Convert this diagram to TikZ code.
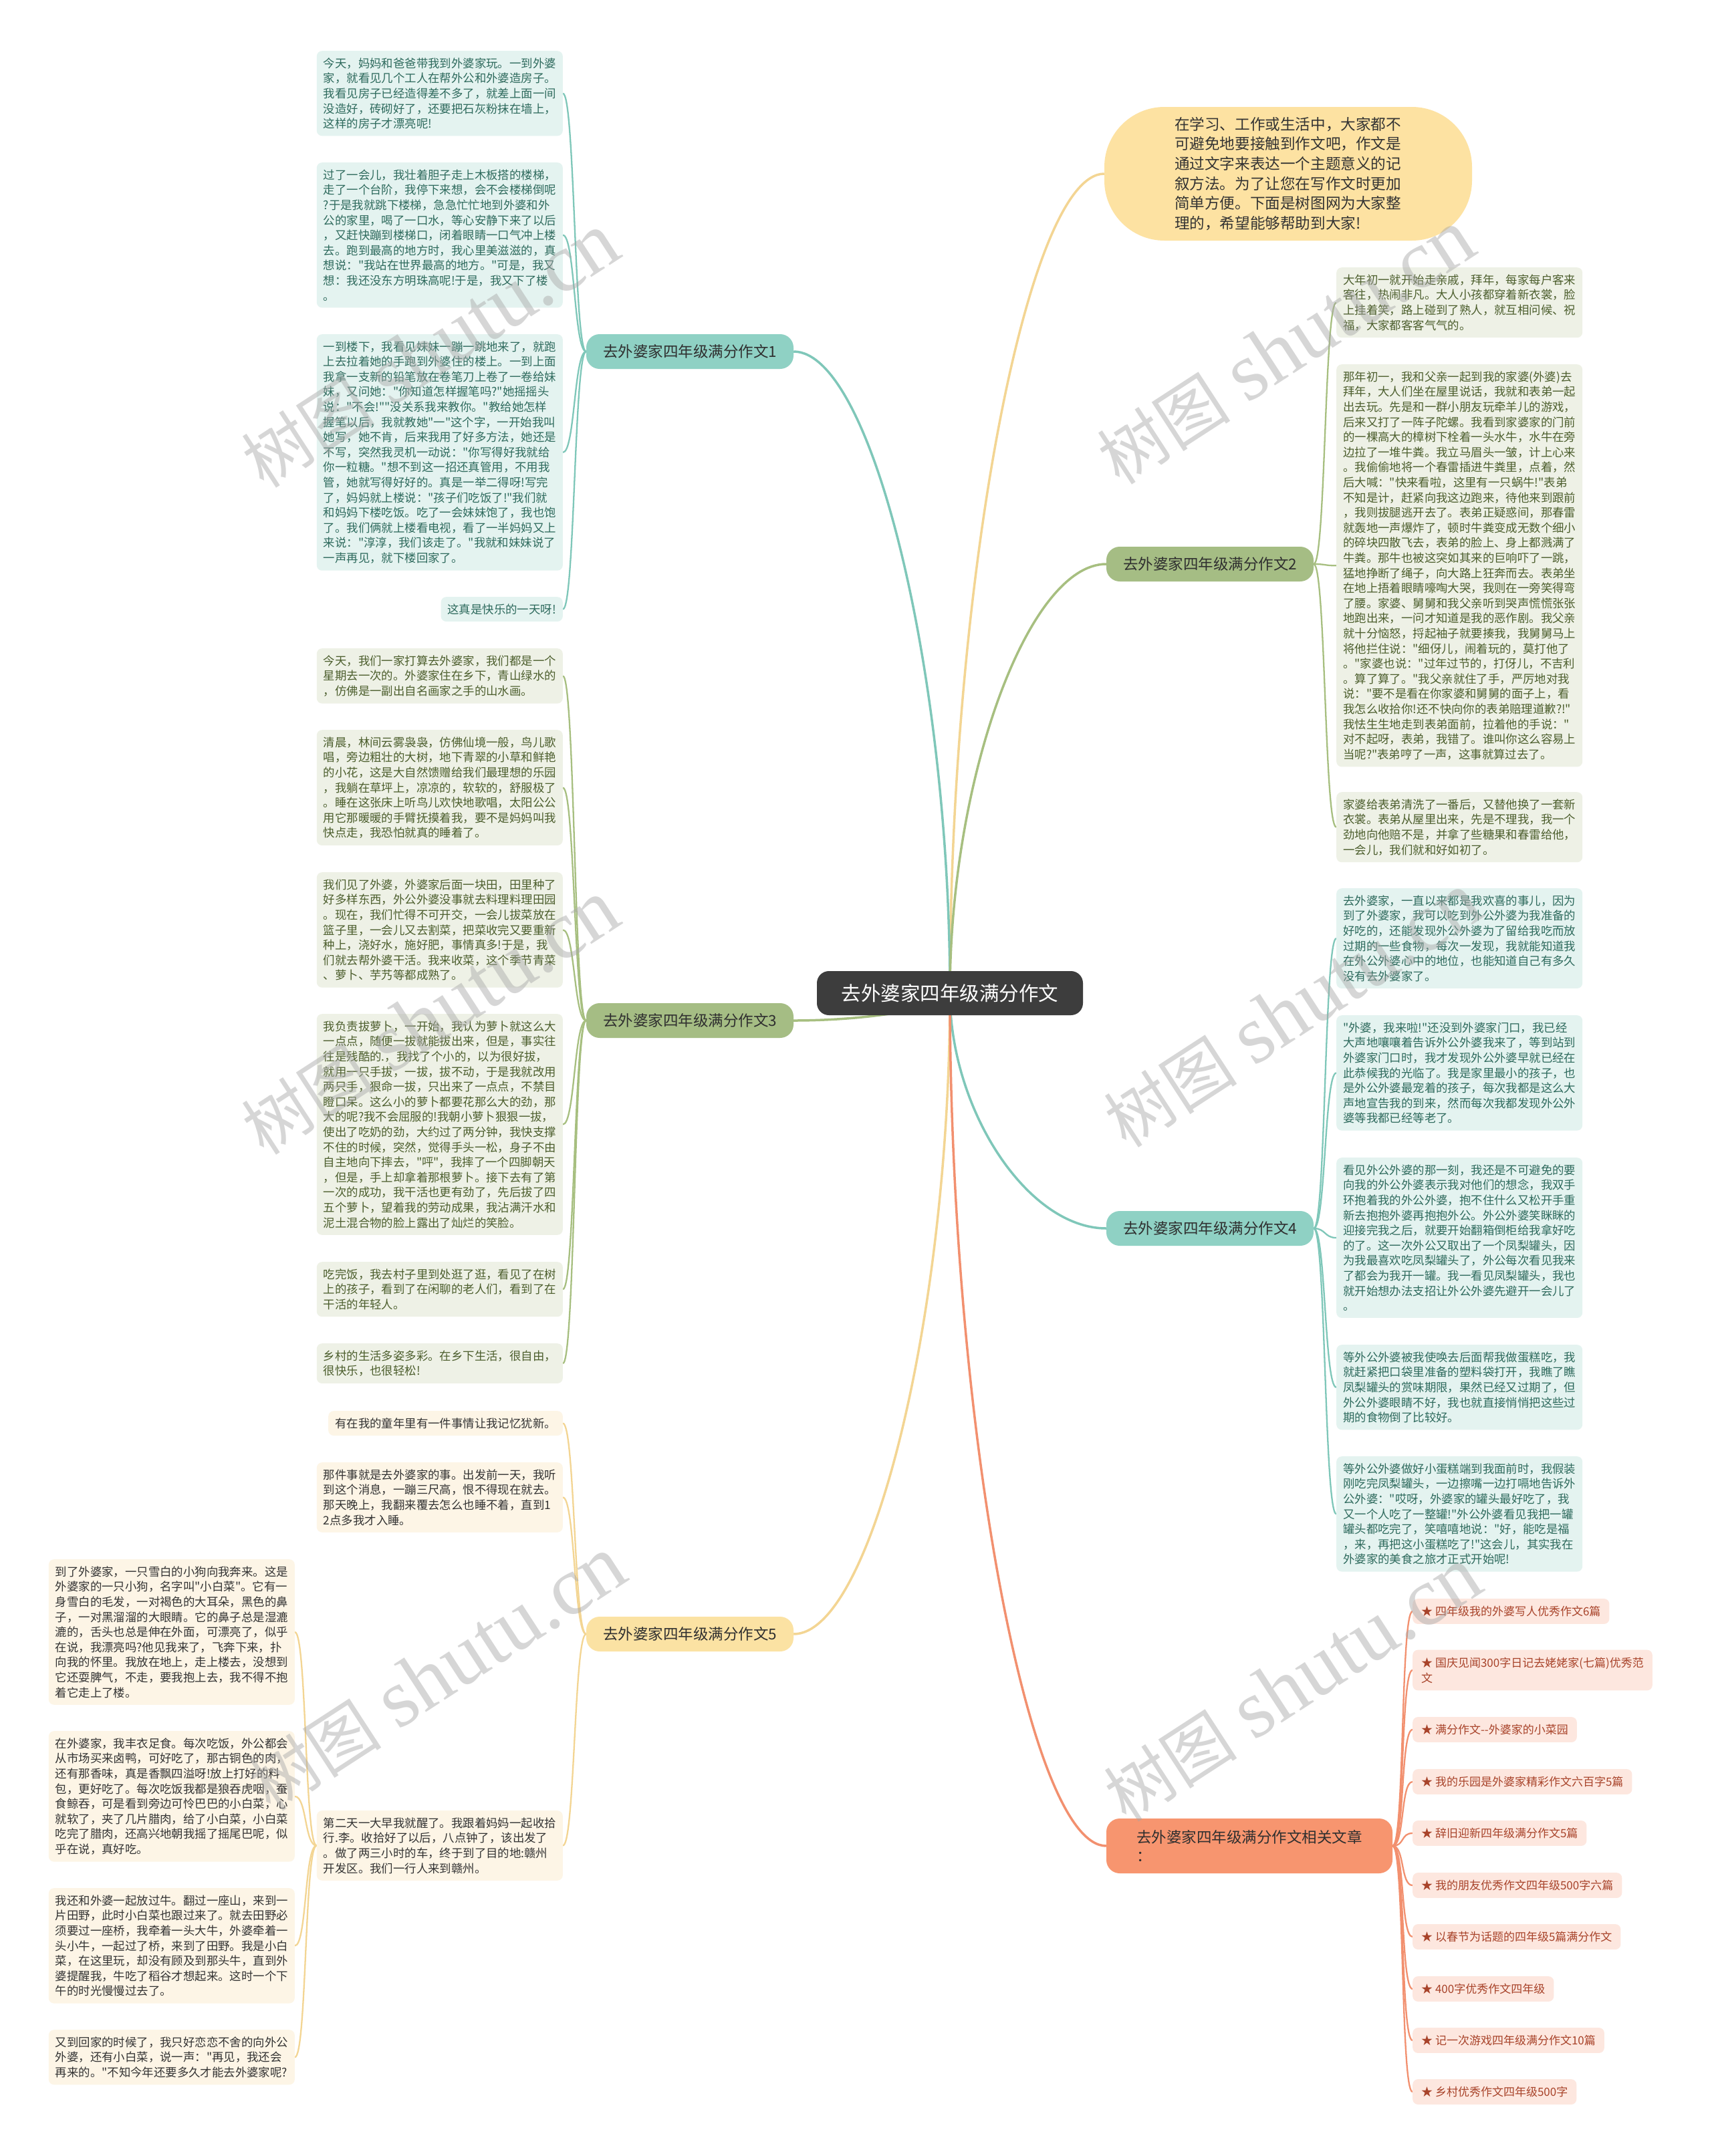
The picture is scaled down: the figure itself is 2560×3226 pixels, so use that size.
\documentclass[tikz,border=0pt]{standalone}
\usepackage{fontspec}
\newfontfamily\cjk{Noto Sans CJK SC}
\newfontfamily\wmser{Liberation Serif}
\usetikzlibrary{calc}
\pgfdeclarelayer{bg}
\pgfsetlayers{bg,main}
\definecolor{cdark}{HTML}{3D3D3D}
\definecolor{tealN}{HTML}{8FD1C4}
\definecolor{tealL}{HTML}{E4F3F0}
\definecolor{tealT}{HTML}{2E6A5D}
\definecolor{tealC}{HTML}{7FC7B9}
\definecolor{grnN}{HTML}{A5BD84}
\definecolor{grnL}{HTML}{EEF1E6}
\definecolor{grnT}{HTML}{4C5E2D}
\definecolor{grnC}{HTML}{A7BF80}
\definecolor{ylwN}{HTML}{FBE2A3}
\definecolor{ylwL}{HTML}{FDF5E6}
\definecolor{ylwT}{HTML}{333333}
\definecolor{ylwC}{HTML}{F3D593}
\definecolor{salN}{HTML}{F7956F}
\definecolor{salL}{HTML}{FDE7DF}
\definecolor{salT}{HTML}{A8432A}
\definecolor{salC}{HTML}{F2906F}
\definecolor{introF}{HTML}{FDE2A2}
\definecolor{brT}{HTML}{2F2F2F}
\newcommand\mlink[3]{\draw[mainline,#1] (#2) .. controls ($(#2)!0.5!(#2 |- #3)$) and ($(#3)!0.5!(#2 |- #3)$) .. (#3);}
\newcommand\llink[3]{\draw[leafline,#1] (#2) .. controls +(-18,0) and +(18,0) .. (#3);}
\newcommand\rlink[3]{\draw[leafline,#1] (#2) .. controls +(18,0) and +(-18,0) .. (#3);}
\begin{document}
\begin{tikzpicture}[x=1pt,y=-1pt,
  mainline/.style={line width=3.5pt},
  leafline/.style={line width=2.3pt},
  centerbox/.style={fill=cdark,text=white,rounded corners=18pt,minimum width=398pt,minimum height=66pt,inner sep=0pt,font=\cjk\fontsize{29.5}{34}\selectfont},
  branch/.style={rounded corners=20pt,minimum width=310pt,minimum height=52pt,inner sep=0pt,text=brT,font=\cjk\fontsize{22.5}{28}\selectfont},
  leaf/.style={rounded corners=8pt,inner xsep=10pt,inner ysep=10.3pt,align=left,font=\cjk\fontsize{17.4}{22.6}\selectfont},
  leafw/.style={leaf,text width=348pt},
  tleaf/.style={leafw,fill=tealL,text=tealT},
  gleaf/.style={leafw,fill=grnL,text=grnT},
  yleaf/.style={leafw,fill=ylwL,text=ylwT},
  rleaf/.style={rounded corners=8pt,inner xsep=13pt,inner ysep=11pt,align=left,fill=salL,text=salT,font=\cjk\fontsize{17}{23}\selectfont,anchor=west},
  wmark/.style={rotate=33,text=black!35,text opacity=0.45,inner sep=0pt}
]
\useasboundingbox (0,0) rectangle (2560,3226);

% central and main topics
\node[centerbox] (c) at (1421,1486) {去外婆家四年级满分作文};
\node[fill=introF,rounded corners=90pt,minimum width=550pt,minimum height=200pt,text width=340pt,align=left,text=ylwT,font=\cjk\fontsize{22.6}{29.6}\selectfont] (intro) at (1927,260) {在学习、工作或生活中，大家都不\\可避免地要接触到作文吧，作文是\\通过文字来表达一个主题意义的记\\叙方法。为了让您在写作文时更加\\简单方便。下面是树图网为大家整\\理的，希望能够帮助到大家!};
\node[branch,fill=tealN] (b1) at (1032,526) {去外婆家四年级满分作文1};
\node[branch,fill=grnN] (b3) at (1032,1527) {去外婆家四年级满分作文3};
\node[branch,fill=ylwN] (b5) at (1032,2445) {去外婆家四年级满分作文5};
\node[branch,fill=grnN] (b2) at (1810,844) {去外婆家四年级满分作文2};
\node[branch,fill=tealN] (b4) at (1810,1838) {去外婆家四年级满分作文4};
\node[branch,fill=salN,minimum width=428pt,minimum height=82pt,align=left] (rel) at (1869,2762) {去外婆家四年级满分作文相关文章\\：};

% branch 1 leaves
\node[tleaf,anchor=north east] (l11) at (842,76) {今天，妈妈和爸爸带我到外婆家玩。一到外婆\\家，就看见几个工人在帮外公和外婆造房子。\\我看见房子已经造得差不多了，就差上面一间\\没造好，砖砌好了，还要把石灰粉抹在墙上，\\这样的房子才漂亮呢!};
\node[tleaf,anchor=north east] (l12) at (842,243) {过了一会儿，我壮着胆子走上木板搭的楼梯，\\走了一个台阶，我停下来想，会不会楼梯倒呢\\?于是我就跳下楼梯，急急忙忙地到外婆和外\\公的家里，喝了一口水，等心安静下来了以后\\，又赶快蹦到楼梯口，闭着眼睛一口气冲上楼\\去。跑到最高的地方时，我心里美滋滋的，真\\想说："我站在世界最高的地方。"可是，我又\\想：我还没东方明珠高呢!于是，我又下了楼\\。};
\node[tleaf,anchor=north east] (l13) at (842,500) {一到楼下，我看见妹妹一蹦一跳地来了，就跑\\上去拉着她的手跑到外婆住的楼上。一到上面\\我拿一支新的铅笔放在卷笔刀上卷了一卷给妹\\妹，又问她："你知道怎样握笔吗?"她摇摇头\\说："不会!""没关系我来教你。"教给她怎样\\握笔以后，我就教她"一"这个字，一开始我叫\\她写，她不肯，后来我用了好多方法，她还是\\不写，突然我灵机一动说："你写得好我就给\\你一粒糖。"想不到这一招还真管用，不用我\\管，她就写得好好的。真是一举二得呀!写完\\了，妈妈就上楼说："孩子们吃饭了!"我们就\\和妈妈下楼吃饭。吃了一会妹妹饱了，我也饱\\了。我们俩就上楼看电视，看了一半妈妈又上\\来说："淳淳，我们该走了。"我就和妹妹说了\\一声再见，就下楼回家了。};
\node[leaf,fill=tealL,text=tealT,anchor=north east] (l14) at (842,893) {这真是快乐的一天呀!};

% branch 3 leaves
\node[gleaf,anchor=north east] (l31) at (842,970) {今天，我们一家打算去外婆家，我们都是一个\\星期去一次的。外婆家住在乡下，青山绿水的\\，仿佛是一副出自名画家之手的山水画。};
\node[gleaf,anchor=north east] (l32) at (842,1092) {清晨，林间云雾袅袅，仿佛仙境一般，鸟儿歌\\唱，旁边粗壮的大树，地下青翠的小草和鲜艳\\的小花，这是大自然馈赠给我们最理想的乐园\\，我躺在草坪上，凉凉的，软软的，舒服极了\\。睡在这张床上听鸟儿欢快地歌唱，太阳公公\\用它那暖暖的手臂抚摸着我，要不是妈妈叫我\\快点走，我恐怕就真的睡着了。};
\node[gleaf,anchor=north east] (l33) at (842,1305) {我们见了外婆，外婆家后面一块田，田里种了\\好多样东西，外公外婆没事就去料理料理田园\\。现在，我们忙得不可开交，一会儿拔菜放在\\篮子里，一会儿又去割菜，把菜收完又要重新\\种上，浇好水，施好肥，事情真多!于是，我\\们就去帮外婆干活。我来收菜，这个季节青菜\\、萝卜、芋艿等都成熟了。};
\node[gleaf,anchor=north east] (l34) at (842,1517) {我负责拔萝卜，一开始，我认为萝卜就这么大\\一点点，随便一拔就能拔出来，但是，事实往\\往是残酷的.，我找了个小的，以为很好拔，\\就用一只手拔，一拔，拔不动，于是我就改用\\两只手，狠命一拔，只出来了一点点，不禁目\\瞪口呆。这么小的萝卜都要花那么大的劲，那\\大的呢?我不会屈服的!我朝小萝卜狠狠一拔，\\使出了吃奶的劲，大约过了两分钟，我快支撑\\不住的时候，突然，觉得手头一松，身子不由\\自主地向下摔去，"呯"，我摔了一个四脚朝天\\，但是，手上却拿着那根萝卜。接下去有了第\\一次的成功，我干活也更有劲了，先后拔了四\\五个萝卜，望着我的劳动成果，我沾满汗水和\\泥土混合物的脸上露出了灿烂的笑脸。};
\node[gleaf,anchor=north east] (l35) at (842,1888) {吃完饭，我去村子里到处逛了逛，看见了在树\\上的孩子，看到了在闲聊的老人们，看到了在\\干活的年轻人。};
\node[gleaf,anchor=north east] (l36) at (842,2010) {乡村的生活多姿多彩。在乡下生活，很自由，\\很快乐，也很轻松!};

% branch 5 leaves
\node[leaf,fill=ylwL,text=ylwT,anchor=north east] (l51) at (842,2111) {有在我的童年里有一件事情让我记忆犹新。};
\node[yleaf,anchor=north east] (l52) at (842,2188) {那件事就是去外婆家的事。出发前一天，我听\\到这个消息，一蹦三尺高，恨不得现在就去。\\那天晚上，我翻来覆去怎么也睡不着，直到1\\2点多我才入睡。};
\node[yleaf,anchor=north east] (l55) at (842,2709) {第二天一大早我就醒了。我跟着妈妈一起收拾\\行.李。收拾好了以后，八点钟了，该出发了\\。做了两三小时的车，终于到了目的地:赣州\\开发区。我们一行人来到赣州。};
\node[yleaf,anchor=north east] (l53) at (441,2333) {到了外婆家，一只雪白的小狗向我奔来。这是\\外婆家的一只小狗，名字叫"小白菜"。它有一\\身雪白的毛发，一对褐色的大耳朵，黑色的鼻\\子，一对黑溜溜的大眼睛。它的鼻子总是湿漉\\漉的，舌头也总是伸在外面，可漂亮了，似乎\\在说，我漂亮吗?他见我来了，飞奔下来，扑\\向我的怀里。我放在地上，走上楼去，没想到\\它还耍脾气，不走，要我抱上去，我不得不抱\\着它走上了楼。};
\node[yleaf,anchor=north east] (l54) at (441,2590) {在外婆家，我丰衣足食。每次吃饭，外公都会\\从市场买来卤鸭，可好吃了，那古铜色的肉，\\还有那香味，真是香飘四溢呀!放上打好的料\\包，更好吃了。每次吃饭我都是狼吞虎咽，蚕\\食鲸吞，可是看到旁边可怜巴巴的小白菜，心\\就软了，夹了几片腊肉，给了小白菜，小白菜\\吃完了腊肉，还高兴地朝我摇了摇尾巴呢，似\\乎在说，真好吃。};
\node[yleaf,anchor=north east] (l56) at (441,2825) {我还和外婆一起放过牛。翻过一座山，来到一\\片田野，此时小白菜也跟过来了。就去田野必\\须要过一座桥，我牵着一头大牛，外婆牵着一\\头小牛，一起过了桥，来到了田野。我是小白\\菜，在这里玩，却没有顾及到那头牛，直到外\\婆提醒我，牛吃了稻谷才想起来。这时一个下\\午的时光慢慢过去了。};
\node[yleaf,anchor=north east] (l57) at (441,3037) {又到回家的时候了，我只好恋恋不舍的向外公\\外婆，还有小白菜，说一声："再见，我还会\\再来的。"不知今年还要多久才能去外婆家呢?};

% branch 2 leaves
\node[gleaf,anchor=north west] (l21) at (1999,400) {大年初一就开始走亲戚，拜年，每家每户客来\\客往，热闹非凡。大人小孩都穿着新衣裳，脸\\上挂着笑，路上碰到了熟人，就互相问候、祝\\福，大家都客客气气的。};
\node[gleaf,anchor=north west] (l22) at (1999,545) {那年初一，我和父亲一起到我的家婆(外婆)去\\拜年，大人们坐在屋里说话，我就和表弟一起\\出去玩。先是和一群小朋友玩牵羊儿的游戏，\\后来又打了一阵子陀螺。我看到家婆家的门前\\的一棵高大的樟树下栓着一头水牛，水牛在旁\\边拉了一堆牛粪。我立马眉头一皱，计上心来\\。我偷偷地将一个春雷插进牛粪里，点着，然\\后大喊："快来看啦，这里有一只蜗牛!"表弟\\不知是计，赶紧向我这边跑来，待他来到跟前\\，我则拔腿逃开去了。表弟正疑惑间，那春雷\\就轰地一声爆炸了，顿时牛粪变成无数个细小\\的碎块四散飞去，表弟的脸上、身上都溅满了\\牛粪。那牛也被这突如其来的巨响吓了一跳，\\猛地挣断了绳子，向大路上狂奔而去。表弟坐\\在地上捂着眼睛嚎啕大哭，我则在一旁笑得弯\\了腰。家婆、舅舅和我父亲听到哭声慌慌张张\\地跑出来，一问才知道是我的恶作剧。我父亲\\就十分恼怒，捋起袖子就要揍我，我舅舅马上\\将他拦住说："细伢儿，闹着玩的，莫打他了\\。"家婆也说："过年过节的，打伢儿，不吉利\\。算了算了。"我父亲就住了手，严厉地对我\\说："要不是看在你家婆和舅舅的面子上，看\\我怎么收拾你!还不快向你的表弟赔理道歉?!"\\我怯生生地走到表弟面前，拉着他的手说："\\对不起呀，表弟，我错了。谁叫你这么容易上\\当呢?"表弟哼了一声，这事就算过去了。};
\node[gleaf,anchor=north west] (l23) at (1999,1185) {家婆给表弟清洗了一番后，又替他换了一套新\\衣裳。表弟从屋里出来，先是不理我，我一个\\劲地向他赔不是，并拿了些糖果和春雷给他，\\一会儿，我们就和好如初了。};

% branch 4 leaves
\node[tleaf,anchor=north west] (l41) at (1999,1329) {去外婆家，一直以来都是我欢喜的事儿，因为\\到了外婆家，我可以吃到外公外婆为我准备的\\好吃的，还能发现外公外婆为了留给我吃而放\\过期的一些食物，每次一发现，我就能知道我\\在外公外婆心中的地位，也能知道自己有多久\\没有去外婆家了。};
\node[tleaf,anchor=north west] (l42) at (1999,1519) {"外婆，我来啦!"还没到外婆家门口，我已经\\大声地嚷嚷着告诉外公外婆我来了，等到站到\\外婆家门口时，我才发现外公外婆早就已经在\\此恭候我的光临了。我是家里最小的孩子，也\\是外公外婆最宠着的孩子，每次我都是这么大\\声地宣告我的到来，然而每次我都发现外公外\\婆等我都已经等老了。};
\node[tleaf,anchor=north west] (l43) at (1999,1732) {看见外公外婆的那一刻，我还是不可避免的要\\向我的外公外婆表示我对他们的想念，我双手\\环抱着我的外公外婆，抱不住什么又松开手重\\新去抱抱外婆再抱抱外公。外公外婆笑眯眯的\\迎接完我之后，就要开始翻箱倒柜给我拿好吃\\的了。这一次外公又取出了一个凤梨罐头，因\\为我最喜欢吃凤梨罐头了，外公每次看见我来\\了都会为我开一罐。我一看见凤梨罐头，我也\\就开始想办法支招让外公外婆先避开一会儿了\\。};
\node[tleaf,anchor=north west] (l44) at (1999,2012) {等外公外婆被我使唤去后面帮我做蛋糕吃，我\\就赶紧把口袋里准备的塑料袋打开，我瞧了瞧\\凤梨罐头的赏味期限，果然已经又过期了，但\\外公外婆眼睛不好，我也就直接悄悄把这些过\\期的食物倒了比较好。};
\node[tleaf,anchor=north west] (l45) at (1999,2179) {等外公外婆做好小蛋糕端到我面前时，我假装\\刚吃完凤梨罐头，一边擦嘴一边打嗝地告诉外\\公外婆："哎呀，外婆家的罐头最好吃了，我\\又一个人吃了一整罐!"外公外婆看见我把一罐\\罐头都吃完了，笑嘻嘻地说："好，能吃是福\\，来，再把这小蛋糕吃了!"这会儿，其实我在\\外婆家的美食之旅才正式开始呢!};

% related articles
\node[rleaf] (r1) at (2113,2411) {★ 四年级我的外婆写人优秀作文6篇};
\node[rleaf] (r2) at (2113,2499) {★ 国庆见闻300字日记去姥姥家(七篇)优秀范\\文};
\node[rleaf] (r3) at (2113,2588) {★ 满分作文-{}-外婆家的小菜园};
\node[rleaf] (r4) at (2113,2666) {★ 我的乐园是外婆家精彩作文六百字5篇};
\node[rleaf] (r5) at (2113,2743) {★ 辞旧迎新四年级满分作文5篇};
\node[rleaf] (r6) at (2113,2821) {★ 我的朋友优秀作文四年级500字六篇};
\node[rleaf] (r7) at (2113,2898) {★ 以春节为话题的四年级5篇满分作文};
\node[rleaf] (r8) at (2113,2976) {★ 400字优秀作文四年级};
\node[rleaf] (r9) at (2113,3053) {★ 记一次游戏四年级满分作文10篇};
\node[rleaf] (r10) at (2113,3130) {★ 乡村优秀作文四年级500字};

\begin{pgfonlayer}{bg}
\fill[white] (0,0) rectangle (2560,3226);
\mlink{ylwC}{c.center}{intro.west}
\mlink{tealC}{c.center}{b1.east}
\mlink{grnC}{c.center}{b3.east}
\mlink{ylwC}{c.center}{b5.east}
\mlink{grnC}{c.center}{b2.west}
\mlink{tealC}{c.center}{b4.west}
\mlink{salC}{c.center}{rel.west}
\llink{tealC}{b1.west}{l11.east}
\llink{tealC}{b1.west}{l12.east}
\llink{tealC}{b1.west}{l13.east}
\llink{tealC}{b1.west}{l14.east}
\llink{grnC}{b3.west}{l31.east}
\llink{grnC}{b3.west}{l32.east}
\llink{grnC}{b3.west}{l33.east}
\llink{grnC}{b3.west}{l34.east}
\llink{grnC}{b3.west}{l35.east}
\llink{grnC}{b3.west}{l36.east}
\llink{ylwC}{b5.west}{l51.east}
\llink{ylwC}{b5.west}{l52.east}
\llink{ylwC}{b5.west}{l55.east}
\llink{ylwC}{l55.west}{l53.east}
\llink{ylwC}{l55.west}{l54.east}
\llink{ylwC}{l55.west}{l56.east}
\llink{ylwC}{l55.west}{l57.east}
\rlink{grnC}{b2.east}{l21.west}
\rlink{grnC}{b2.east}{l22.west}
\rlink{grnC}{b2.east}{l23.west}
\rlink{tealC}{b4.east}{l41.west}
\rlink{tealC}{b4.east}{l42.west}
\rlink{tealC}{b4.east}{l43.west}
\rlink{tealC}{b4.east}{l44.west}
\rlink{tealC}{b4.east}{l45.west}
\foreach \r in {r1,r2,r3,r4,r5,r6,r7,r8,r9,r10}{\rlink{salC}{rel.east}{\r.west}}
\end{pgfonlayer}

% watermarks
\foreach \wx/\wy/\wn in {644/525/w1,644/1523/w2,654/2505/w3,1924/520/w4,1934/1512/w5,1934/2521/w6}{
  \node[wmark] (\wn) at (\wx,\wy) {{\cjk\fontsize{100}{100}\selectfont 树图}\hspace{26pt}{\wmser\fontsize{124}{124}\selectfont shutu.cn}};
}
\end{tikzpicture}
\end{document}
